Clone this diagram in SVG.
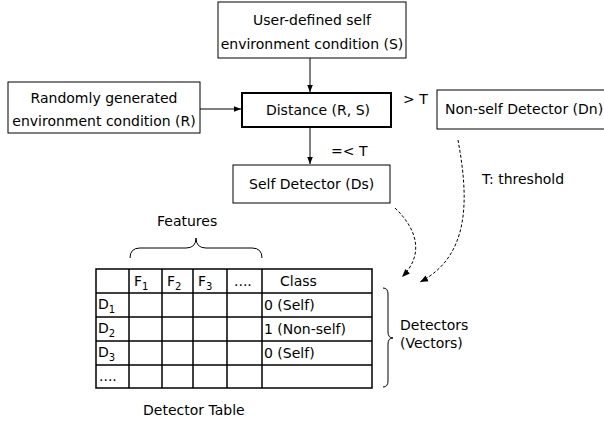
<svg xmlns="http://www.w3.org/2000/svg" width="604" height="426" viewBox="0 0 604 426">
<defs>
<marker id="ah" viewBox="0 0 10 10" refX="10" refY="5" markerWidth="7" markerHeight="7" markerUnits="userSpaceOnUse" orient="auto">
<path d="M0,1 L10,5 L0,9 Z" fill="#000"/>
</marker>
<marker id="ahd" viewBox="0 0 10 10" refX="10" refY="5" markerWidth="8" markerHeight="8" markerUnits="userSpaceOnUse" orient="auto">
<path d="M0,1 L10,5 L0,9 Z" fill="#000"/>
</marker>
</defs>
<style>
text{font-family:"DejaVu Sans","Liberation Sans",sans-serif;font-size:14px;fill:#000}
.box{fill:#fff;stroke:#000;stroke-width:1}
.thick{fill:#fff;stroke:#000;stroke-width:2}
.ln{fill:none;stroke:#000;stroke-width:1}
.dash{fill:none;stroke:#000;stroke-width:1;stroke-dasharray:3,2}
.grid{fill:none;stroke:#000;stroke-width:1.5}
.mid{text-anchor:middle}
.sub{font-size:10px}
</style>
<rect width="604" height="426" fill="#fff"/>
<g id="connectors">
<line class="ln" x1="310" y1="58" x2="310" y2="92" marker-end="url(#ah)"/>
<line class="ln" x1="200" y1="109" x2="241" y2="109" marker-end="url(#ah)"/>
<line class="ln" x1="310" y1="128" x2="310" y2="164" marker-end="url(#ah)"/>
<path class="dash" d="M395,208 C418,230 424,255 402,277" marker-end="url(#ahd)"/>
<path class="dash" d="M458,140 C468,195 472,255 420,282" marker-end="url(#ahd)"/>
<text x="403" y="104">&gt; T</text>
<text x="331" y="156">=&lt; T</text>
</g>
<g id="node-user">
<rect class="box" x="218" y="2" width="188" height="56"/>
<text class="mid" x="312" y="25">User-defined self</text>
<text class="mid" x="312" y="49">environment condition (S)</text>
</g>
<g id="node-random">
<rect class="box" x="8" y="82" width="192" height="51"/>
<text class="mid" x="104" y="103">Randomly generated</text>
<text class="mid" x="104" y="126">environment condition (R)</text>
</g>
<g id="node-distance">
<rect class="thick" x="242" y="93" width="149" height="34"/>
<text class="mid" x="318" y="115">Distance (R, S)</text>
</g>
<g id="node-nonself">
<rect class="box" x="437" y="90" width="175" height="39"/>
<text x="445" y="114">Non-self Detector (Dn)</text>
</g>
<g id="node-self">
<rect class="box" x="233" y="165" width="157" height="38"/>
<text x="249" y="189">Self Detector (Ds)</text>
</g>
<g id="note-threshold">
<text x="482" y="184">T: threshold</text>
</g>
<g id="features">
<text x="157" y="226">Features</text>
<path class="ln" d="M130,258 Q130,248 140,248 L186,248 Q196,248 196,238 Q196,248 206,248 L252,248 Q262,248 262,258"/>
</g>
<g id="detector-table">
<rect class="grid" x="96" y="269" width="276" height="119"/>
<line class="grid" x1="96" y1="293" x2="372" y2="293"/>
<line class="grid" x1="96" y1="317" x2="372" y2="317"/>
<line class="grid" x1="96" y1="341" x2="372" y2="341"/>
<line class="grid" x1="96" y1="365" x2="372" y2="365"/>
<line class="grid" x1="129" y1="269" x2="129" y2="388"/>
<line class="grid" x1="162" y1="269" x2="162" y2="388"/>
<line class="grid" x1="193" y1="269" x2="193" y2="388"/>
<line class="grid" x1="227" y1="269" x2="227" y2="388"/>
<line class="grid" x1="262" y1="269" x2="262" y2="388"/>
<text x="134" y="286">F<tspan class="sub" dy="4">1</tspan></text>
<text x="167" y="286">F<tspan class="sub" dy="4">2</tspan></text>
<text x="198" y="286">F<tspan class="sub" dy="4">3</tspan></text>
<text x="234" y="286">....</text>
<text x="280" y="286">Class</text>
<text x="98" y="309">D<tspan class="sub" dy="4">1</tspan></text>
<text x="98" y="333">D<tspan class="sub" dy="4">2</tspan></text>
<text x="98" y="357">D<tspan class="sub" dy="4">3</tspan></text>
<text x="99" y="381">....</text>
<text x="264" y="310">0 (Self)</text>
<text x="264" y="334">1 (Non-self)</text>
<text x="264" y="358">0 (Self)</text>
<text x="143" y="415">Detector Table</text>
</g>
<g id="detectors-label">
<path class="ln" d="M383,288 Q388,288 388,294 L388,332 Q388,338 393,338 Q388,338 388,344 L388,381 Q388,387 383,387"/>
<text x="400" y="330">Detectors</text>
<text x="400" y="348">(Vectors)</text>
</g>
</svg>
